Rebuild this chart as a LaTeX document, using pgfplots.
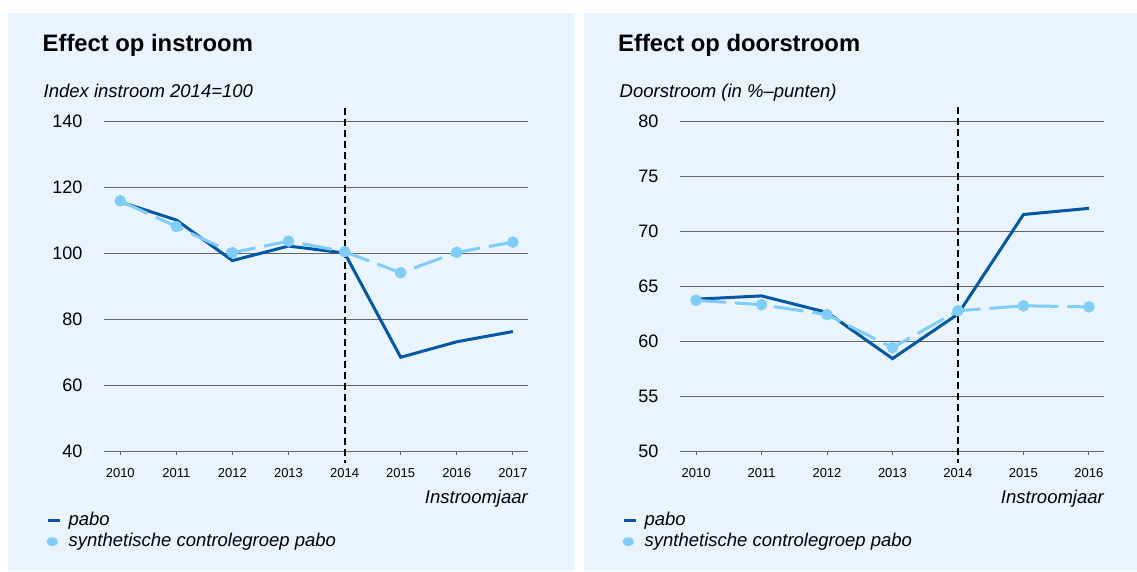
\documentclass[border=0pt]{standalone}
\usepackage{pgfplots}
\pgfplotsset{compat=1.18}
\usepackage{fontspec}
\setmainfont{Liberation Sans}
\definecolor{panelbg}{RGB}{234,244,255}
\definecolor{darkblue}{RGB}{0,88,164}
\definecolor{lightblue}{RGB}{128,205,252}
\definecolor{gridgray}{RGB}{100,100,100}
\pgfplotsset{
  panel/.style={
    scale only axis, width=424pt, height=330pt, anchor=south west,
    axis line style={draw=none},
    ymajorgrids, grid style={line width=0.9pt, gridgray},
    ytick style={draw=none},
    xtick style={draw=gridgray, line width=0.9pt},
    xtick pos=bottom, ytick pos=left,
    tick align=outside, major tick length=4pt,
    /pgf/number format/assume math mode=true,
    /pgf/number format/1000 sep={},
    yticklabel style={font=\fontsize{18}{20}\selectfont, xshift=-14pt},
    xticklabel style={font=\fontsize{13}{15}\selectfont, yshift=-10pt},
    clip=false,
    xlabel={Instroomjaar},
    xlabel style={at={(axis description cs:1,0)}, anchor=base east, yshift=-52pt, font=\fontsize{18.5}{22}\selectfont\itshape, inner sep=0pt},
    legend style={at={(-0.137,-0.184)}, anchor=north west, draw=none, fill=none, inner sep=0pt, row sep=4pt, column sep=7pt, font=\fontsize{18.5}{22}\selectfont\itshape, nodes={inner sep=0pt, text height=13.5pt, text depth=4pt}},
    legend cell align=left,
  },
  pabo/.style={darkblue, line width=3pt, no markers, legend image code/.code={\draw[darkblue, line width=3.5pt] (0pt,0pt) -- (12pt,0pt);}},
  synth/.style={lightblue, line width=3pt, dash pattern=on 30pt off 9pt, mark=*, mark size=4.2pt, mark options={solid, draw=none, fill=lightblue}, legend image code/.code={\fill[lightblue] (4.5pt,0.5pt) ellipse (4.2pt and 2.9pt);}}
}
\begin{document}
\begin{tikzpicture}
\useasboundingbox (0,0) rectangle (1137pt,571pt);
\fill[white] (0,0) rectangle (1137pt,571pt);
\fill[panelbg] (8pt,0pt) rectangle (575pt,558pt);
\fill[panelbg] (584pt,0pt) rectangle (1137pt,558pt);
\node[anchor=base west, inner sep=0pt, font=\fontsize{23.8}{27}\selectfont\bfseries] at (42.5pt,519pt) {Effect op instroom};
\node[anchor=base west, inner sep=0pt, font=\fontsize{18.5}{22}\selectfont\itshape] at (43.5pt,473.3pt) {Index instroom 2014=100};
\node[anchor=base west, inner sep=0pt, font=\fontsize{23.8}{27}\selectfont\bfseries] at (618pt,519pt) {Effect op doorstroom};
\node[anchor=base west, inner sep=0pt, font=\fontsize{18.5}{22}\selectfont\itshape] at (619.5pt,473.3pt) {Doorstroom (in \%--punten)};

\begin{axis}[panel, at={(104pt,120pt)},
  xmin=2009.71, xmax=2017.27, ymin=40, ymax=140,
  ytick={40,60,80,100,120,140}, xtick={2010,...,2017}]
\addplot[pabo] coordinates {(2010,115.5) (2011,110) (2012,97.7) (2013,102.1) (2014,100) (2015,68.4) (2016,73.1) (2017,76.2)};
\addlegendentry{pabo}
\addplot[synth] coordinates {(2010,115.8) (2011,108.0) (2012,100.1) (2013,103.6) (2014,100.4) (2015,94.0) (2016,100.2) (2017,103.3)};
\addlegendentry{synthetische controlegroep pabo}
\draw[black, line width=2pt, dash pattern=on 7pt off 4pt] (axis cs:2014,144) -- (axis cs:2014,36.4);
\end{axis}

\begin{axis}[panel, at={(680pt,120pt)},
  xmin=2009.755, xmax=2016.23, ymin=50, ymax=80,
  ytick={50,55,60,65,70,75,80}, xtick={2010,...,2016}]
\addplot[pabo] coordinates {(2010,63.8) (2011,64.1) (2012,62.6) (2013,58.4) (2014,62.45) (2015,71.5) (2016,72.06)};
\addlegendentry{pabo}
\addplot[synth] coordinates {(2010,63.7) (2011,63.3) (2012,62.4) (2013,59.4) (2014,62.75) (2015,63.2) (2016,63.1)};
\addlegendentry{synthetische controlegroep pabo}
\draw[black, line width=2pt, dash pattern=on 7pt off 4pt] (axis cs:2014,81.27) -- (axis cs:2014,48.9);
\end{axis}
\end{tikzpicture}
\end{document}
